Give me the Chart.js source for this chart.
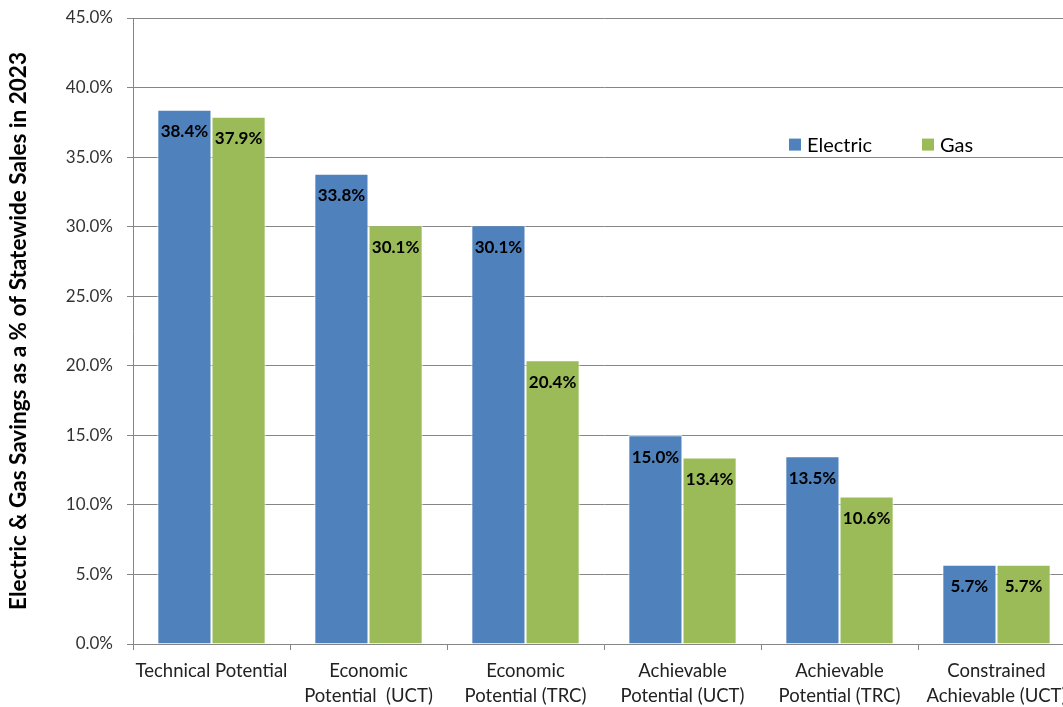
<!DOCTYPE html>
<html>
<head>
<meta charset="utf-8">
<script src="https://cdn.jsdelivr.net/npm/chart.js@4/dist/chart.umd.min.js"></script>
<style>
  html, body { margin: 0; padding: 0; background: #fff; overflow: hidden; }
  #wrap { width: 1080px; height: 707px; }
</style>
</head>
<body>
<div id="wrap"><canvas id="myChart"></canvas></div>
<script>
const categories = [
  'Technical Potential',
  ['Economic', 'Potential  (UCT)'],
  ['Economic', 'Potential (TRC)'],
  ['Achievable', 'Potential (UCT)'],
  ['Achievable', 'Potential (TRC)'],
  ['Constrained', 'Achievable (UCT)']
];
const electricValues = [38.4, 33.8, 30.1, 15.0, 13.5, 5.7];
const gasValues = [37.9, 30.1, 20.4, 13.4, 10.6, 5.7];
const seriesNames = ['Electric', 'Gas'];
const seriesColors = ['#4F81BD', '#9BBB59'];

const fontFamily = 'Lato, "Open Sans", sans-serif';

// values written inside the top of each bar
const barLabels = {
  id: 'barLabels',
  afterDatasetsDraw(chart) {
    const ctx = chart.ctx;
    ctx.save();
    ctx.font = 'bold 17px ' + fontFamily;
    ctx.fillStyle = '#000';
    ctx.textAlign = 'center';
    ctx.textBaseline = 'middle';
    chart.data.datasets.forEach((ds, i) => {
      chart.getDatasetMeta(i).data.forEach((bar, j) => {
        ctx.fillText(ds.data[j].toFixed(1) + '%', bar.x, bar.y + 22);
      });
    });
    ctx.restore();
  }
};

// legend drawn inside the plot, upper right
const insideLegend = {
  id: 'insideLegend',
  afterDraw(chart) {
    const ctx = chart.ctx;
    const area = chart.chartArea;
    const y = chart.scales.y.getPixelForValue(35.9);
    let x = area.left + 656;
    ctx.save();
    ctx.font = '20px ' + fontFamily;
    ctx.textBaseline = 'middle';
    seriesNames.forEach((name, i) => {
      ctx.fillStyle = seriesColors[i];
      ctx.fillRect(x, y - 6, 12, 12);
      ctx.fillStyle = '#000';
      ctx.fillText(name, x + 18, y + 1);
      x += 133;
    });
    ctx.restore();
  }
};

const ctx = document.getElementById('myChart').getContext('2d');
new Chart(ctx, {
  type: 'bar',
  data: {
    labels: categories,
    datasets: seriesNames.map((name, i) => ({
      label: name,
      data: i === 0 ? electricValues : gasValues,
      backgroundColor: seriesColors[i],
      borderColor: '#ffffff',
      borderWidth: 1,
      categoryPercentage: 0.69,
      barPercentage: 1
    }))
  },
  options: {
    responsive: true,
    maintainAspectRatio: false,
    animation: false,
    layout: { padding: { top: 18, right: 5, left: 0, bottom: 0 } },
    plugins: {
      legend: { display: false },
      tooltip: { enabled: false }
    },
    scales: {
      x: {
        grid: { display: true, drawOnChartArea: false, offset: true, tickLength: 6, color: '#868686' },
        border: { color: '#868686' },
        ticks: {
          color: '#222',
          font: { family: fontFamily, size: 18.5, lineHeight: 1.35 },
          padding: 9,
          maxRotation: 0,
          autoSkip: false
        },
        afterFit(scale) {
          scale.height = 63;
          scale.paddingLeft = 0;
          scale.paddingRight = 0;
        }
      },
      y: {
        min: 0,
        max: 45,
        grid: { color: '#868686', tickLength: 6 },
        border: { color: '#868686' },
        ticks: {
          stepSize: 5,
          color: '#333',
          padding: 14,
          font: { family: fontFamily, size: 17 },
          callback: v => v.toFixed(1) + '%'
        },
        title: {
          display: true,
          text: 'Electric & Gas Savings as a % of Statewide Sales in 2023',
          color: '#000',
          font: { family: fontFamily, size: 22.5, weight: 'bold' },
          padding: { top: 5, bottom: 0 }
        },
        afterFit(scale) {
          scale.width = 133;
          scale.paddingTop = 0;
          scale.paddingBottom = 0;
        }
      }
    }
  },
  plugins: [barLabels, insideLegend]
});
</script>
</body>
</html>
